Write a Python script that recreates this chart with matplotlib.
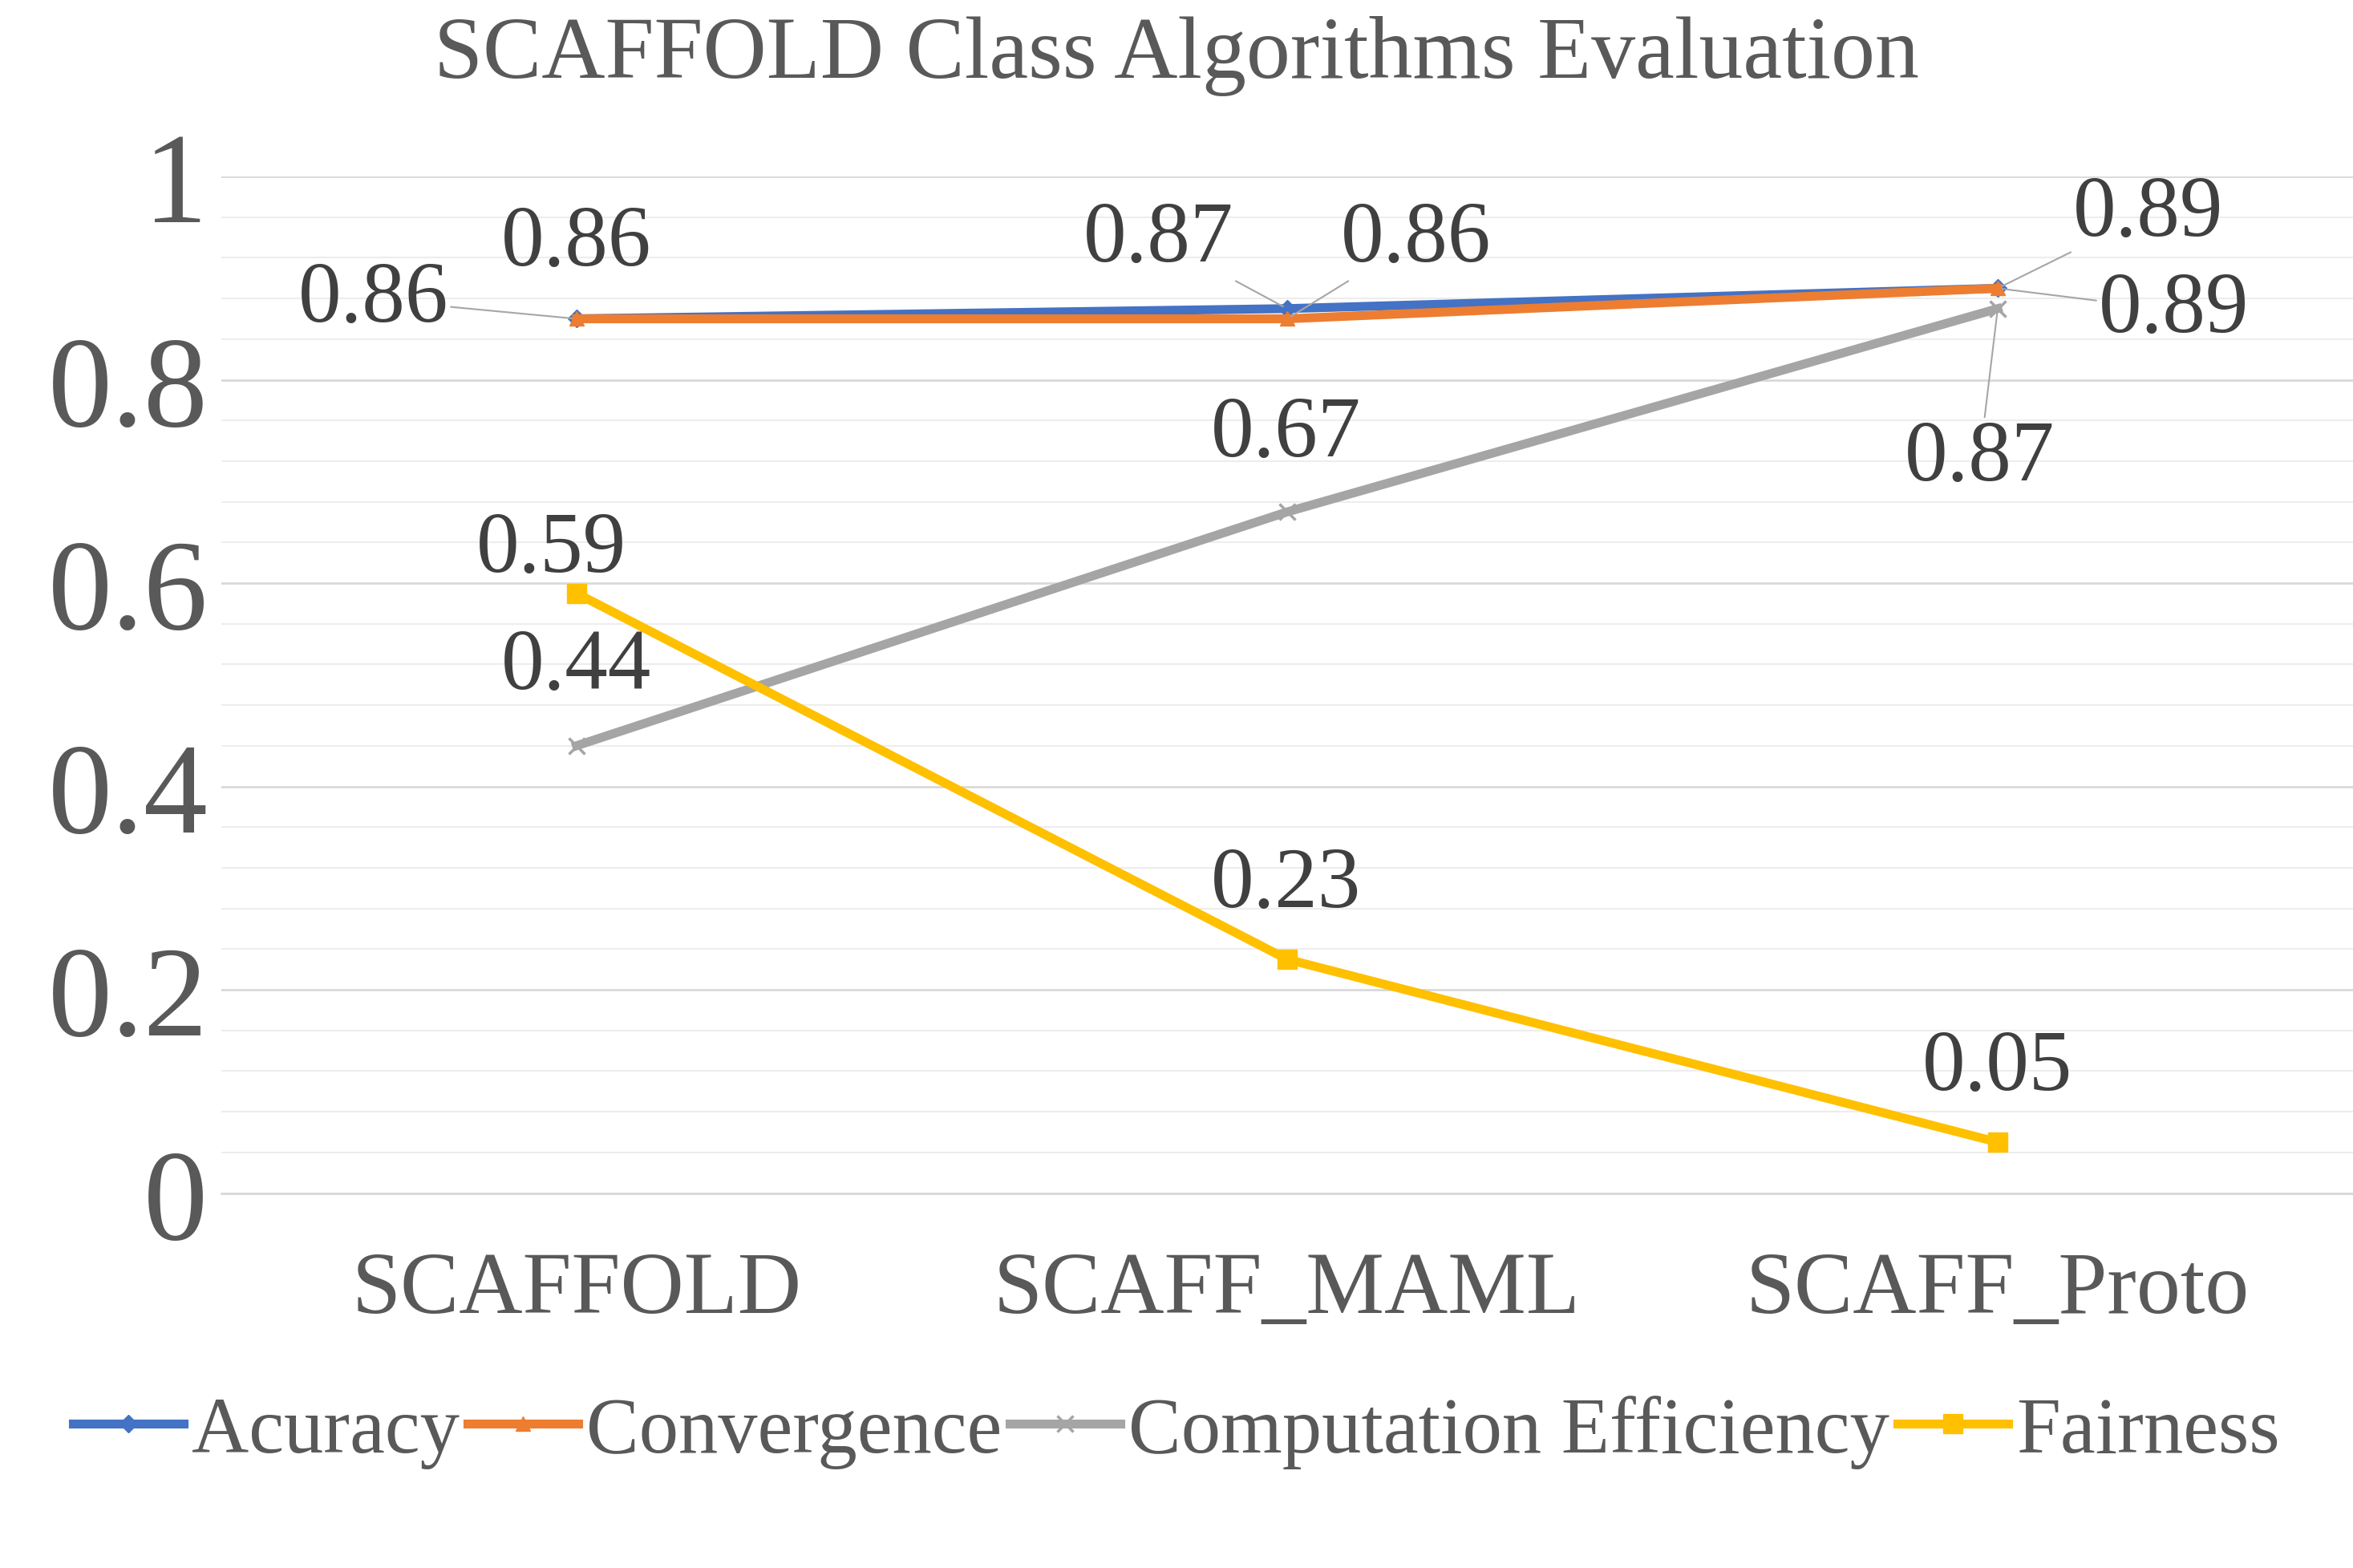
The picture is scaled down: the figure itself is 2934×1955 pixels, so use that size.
import matplotlib
matplotlib.use("Agg")
import matplotlib.pyplot as plt
from matplotlib.ticker import MultipleLocator

categories = ["SCAFFOLD", "SCAFF_MAML", "SCAFF_Proto"]
accuracy = [0.86, 0.87, 0.89]
convergence = [0.86, 0.86, 0.89]
comp_eff = [0.44, 0.67, 0.87]
fairness = [0.59, 0.23, 0.05]

plt.rcParams["font.family"] = "Liberation Serif"
fig = plt.figure(figsize=(29.34, 19.56), dpi=100)
ax = fig.add_axes([0.094, 0.239, 0.906, 0.648])
x = list(range(len(categories)))

ax.plot(x, accuracy, color="#4472C4", lw=8, marker="D", ms=11, label="Acuracy", zorder=4)
ax.plot(x, convergence, color="#ED7D31", lw=8, marker="^", ms=13, label="Convergence", zorder=5)
ax.plot(x, comp_eff, color="#A5A5A5", lw=8, marker="x", ms=15, mew=2.5, label="Computation Efficiency", zorder=3)
ax.plot(x, fairness, color="#FFC000", lw=8, marker="s", ms=17, label="Fairness", zorder=3)

ax.set_xlim(-0.5, 2.5)
ax.set_ylim(0, 1)
ax.yaxis.set_major_locator(MultipleLocator(0.2))
ax.yaxis.set_minor_locator(MultipleLocator(0.04))
ax.grid(which="major", axis="y", color="#D9D9D9", lw=2)
ax.grid(which="minor", axis="y", color="#EDEDED", lw=1.5)
ax.set_axisbelow(True)
for s in ax.spines.values():
    s.set_visible(False)
ax.spines["bottom"].set_visible(True)
ax.spines["bottom"].set_color("#D9D9D9")
ax.spines["bottom"].set_linewidth(2)
ax.tick_params(axis="both", which="both", length=0)
ax.set_xticks(x)
ax.set_xticklabels(categories, fontsize=79, color="#595959")
ax.tick_params(axis="x", pad=52)
ax.set_yticks([0, 0.2, 0.4, 0.6, 0.8, 1.0])
ax.set_yticklabels(["0", "0.2", "0.4", "0.6", "0.8", "1"], fontsize=115, color="#595959")
ax.tick_params(axis="y", pad=12)

fig.suptitle("SCAFFOLD Class Algorithms Evaluation", fontsize=79, color="#595959", y=0.99)

def px(p):
    return (p - 385) / 472.5

def py(p):
    return (795 - p) / 677

lab = dict(fontsize=77, color="#404040", ha="center", va="center")
lead = dict(arrowstyle="-", color="#A6A6A6", lw=1.5, shrinkA=0, shrinkB=4)

def annot(val, xi, yv, tx, ty, leader):
    ax.annotate(f"{val:.2f}", xy=(xi, yv), xytext=(px(tx), py(ty)),
                arrowprops=lead if leader else None, zorder=6, **lab)

# Accuracy
annot(accuracy[0], 0, accuracy[0], 250, 200, True)
annot(accuracy[1], 1, accuracy[1], 772, 160, True)
annot(accuracy[2], 2, accuracy[2], 1430, 143, True)
# Convergence
annot(convergence[0], 0, convergence[0], 385, 163, False)
annot(convergence[1], 1, convergence[1], 943, 160, True)
annot(convergence[2], 2, convergence[2], 1447, 207, True)
# Computation efficiency
annot(comp_eff[0], 0, comp_eff[0], 385, 445, False)
annot(comp_eff[1], 1, comp_eff[1], 857, 290, False)
annot(comp_eff[2], 2, comp_eff[2], 1318, 306, True)
# Fairness
for i, v in enumerate(fairness):
    ty = [367, 590, 712][i]
    annot(v, i, v, [368, 857, 1330][i], ty, False)

fig.legend(loc="center", bbox_to_anchor=(0.5, 0.087), ncol=4, fontsize=71,
           frameon=False, handlelength=1.4, handletextpad=0.1, columnspacing=0.1,
           labelcolor="#595959")

fig.savefig("out.png", dpi=100)
